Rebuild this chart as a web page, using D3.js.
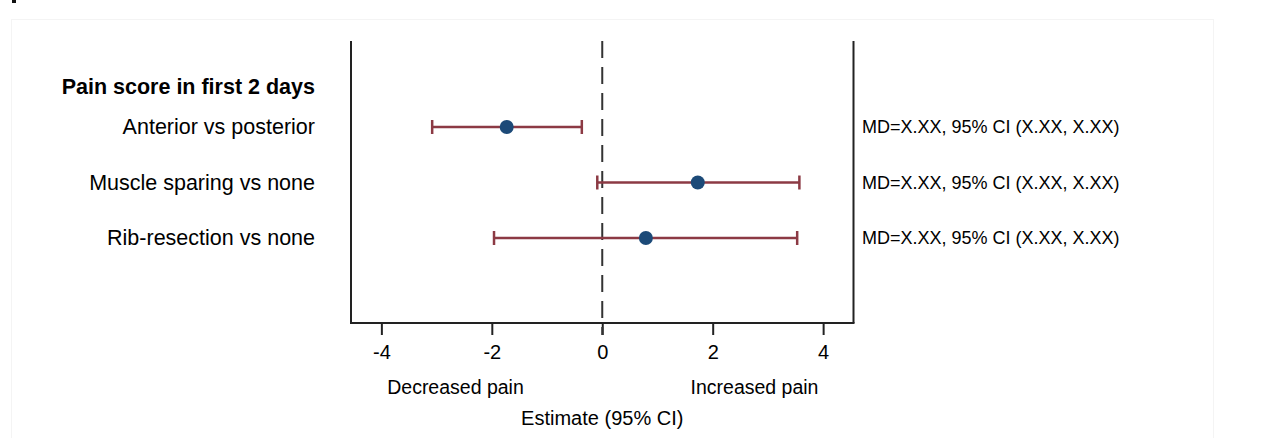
<!DOCTYPE html>
<html>
<head>
<meta charset="utf-8">
<script src="https://cdn.jsdelivr.net/npm/d3@7"></script>
<style>
  html, body { margin: 0; padding: 0; background: #ffffff; }
  svg { display: block; }
  text { font-family: "Liberation Sans", Arial, sans-serif; fill: #000; }
</style>
</head>
<body>
<svg id="chart" width="1287" height="438"></svg>
<script>
// Forest plot: mean difference in pain score, first 2 days
const groupTitle = "Pain score in first 2 days";
const comparisons = ["Anterior vs posterior", "Muscle sparing vs none", "Rib-resection vs none"];
const estimates = [-1.73, 1.73, 0.79];
const lowerCI = [-3.08, -0.09, -1.96];
const upperCI = [-0.37, 3.57, 3.53];
const resultLabels = ["MD=X.XX, 95% CI (X.XX, X.XX)", "MD=X.XX, 95% CI (X.XX, X.XX)", "MD=X.XX, 95% CI (X.XX, X.XX)"];
const xTicks = [-4, -2, 0, 2, 4];
const xDomain = [-4.55, 4.55];
const leftNote = "Decreased pain";
const rightNote = "Increased pain";
const xTitle = "Estimate (95% CI)";

const svg = d3.select("#chart");
const FONT = '"Liberation Sans", Arial, sans-serif';

// faint outer panel border
svg.append("rect")
  .attr("x", 11.5).attr("y", 19.5).attr("width", 1202).attr("height", 440)
  .attr("fill", "none").attr("stroke", "#f4f4f4").attr("stroke-width", 1);

// small clipped glyph fragment at the top-left edge
svg.append("rect").attr("x", 12).attr("y", 0).attr("width", 4).attr("height", 3).attr("fill", "#111");

const plot = { left: 351, right: 853.5, top: 41, bottom: 323 };

const x = d3.scaleLinear().domain(xDomain).range([plot.left, plot.right]);

// row positions: comparisons by index, heading sits a little closer above the first row
const y = d3.scaleLinear().domain([0, comparisons.length - 1]).range([127, 238]);
const headingRow = -0.72;

// side borders of the plot area
[plot.left, plot.right].forEach(px => {
  svg.append("line")
    .attr("x1", px).attr("x2", px)
    .attr("y1", plot.top).attr("y2", plot.bottom)
    .attr("stroke", "#222").attr("stroke-width", 2);
});

// x axis
const axis = svg.append("g")
  .attr("transform", `translate(0,${plot.bottom})`)
  .call(d3.axisBottom(x).tickValues(xTicks).tickSize(12).tickPadding(10)
    .tickFormat(d => d3.format("d")(d).replace("−", "-")));
axis.select(".domain").attr("stroke", "#222").attr("stroke-width", 2)
  .attr("d", `M${plot.left - 1},0H${plot.right + 1}`);
axis.selectAll(".tick line").attr("stroke", "#222").attr("stroke-width", 2);
axis.selectAll(".tick text")
  .style("font-family", FONT)
  .style("font-size", "20px").attr("fill", "#000");

// reference line at zero (dashed)
svg.append("line")
  .attr("x1", x(0)).attr("x2", x(0))
  .attr("y1", plot.top).attr("y2", plot.bottom + 12)
  .attr("stroke", "#333").attr("stroke-width", 2)
  .attr("stroke-dasharray", "17,9");

// group heading
svg.append("text")
  .attr("x", 315).attr("y", y(headingRow))
  .attr("text-anchor", "end").attr("dominant-baseline", "central")
  .style("font-size", "21.5px").style("font-weight", "bold")
  .text(groupTitle);

// comparison labels
svg.selectAll("text.row-label")
  .data(comparisons)
  .join("text")
  .attr("class", "row-label")
  .attr("x", 315).attr("y", (d, i) => y(i))
  .attr("text-anchor", "end").attr("dominant-baseline", "central")
  .style("font-size", "21.5px")
  .text(d => d);

// confidence intervals with caps
const ciColor = "#8c3a44";
const capH = 7;
const rows = comparisons.map((c, i) => ({ i, lo: lowerCI[i], hi: upperCI[i], est: estimates[i] }));
const ci = svg.selectAll("g.ci").data(rows).join("g").attr("class", "ci");
ci.append("line")
  .attr("x1", d => x(d.lo)).attr("x2", d => x(d.hi))
  .attr("y1", d => y(d.i)).attr("y2", d => y(d.i))
  .attr("stroke", ciColor).attr("stroke-width", 2.5);
ci.append("line")
  .attr("x1", d => x(d.lo)).attr("x2", d => x(d.lo))
  .attr("y1", d => y(d.i) - capH).attr("y2", d => y(d.i) + capH)
  .attr("stroke", ciColor).attr("stroke-width", 2.5);
ci.append("line")
  .attr("x1", d => x(d.hi)).attr("x2", d => x(d.hi))
  .attr("y1", d => y(d.i) - capH).attr("y2", d => y(d.i) + capH)
  .attr("stroke", ciColor).attr("stroke-width", 2.5);
ci.append("circle")
  .attr("cx", d => x(d.est)).attr("cy", d => y(d.i)).attr("r", 7)
  .attr("fill", "#1c4a78");

// result text on the right
svg.selectAll("text.result")
  .data(resultLabels)
  .join("text")
  .attr("class", "result")
  .attr("x", 862).attr("y", (d, i) => y(i))
  .attr("dominant-baseline", "central")
  .style("font-size", "18px")
  .text(d => d);

// direction notes and axis title
svg.append("text").attr("x", 455.5).attr("y", 394)
  .attr("text-anchor", "middle").style("font-size", "19.5px").text(leftNote);
svg.append("text").attr("x", 754.5).attr("y", 394)
  .attr("text-anchor", "middle").style("font-size", "19.5px").text(rightNote);
svg.append("text").attr("x", x(0)).attr("y", 425)
  .attr("text-anchor", "middle").style("font-size", "20px").text(xTitle);
</script>
</body>
</html>
